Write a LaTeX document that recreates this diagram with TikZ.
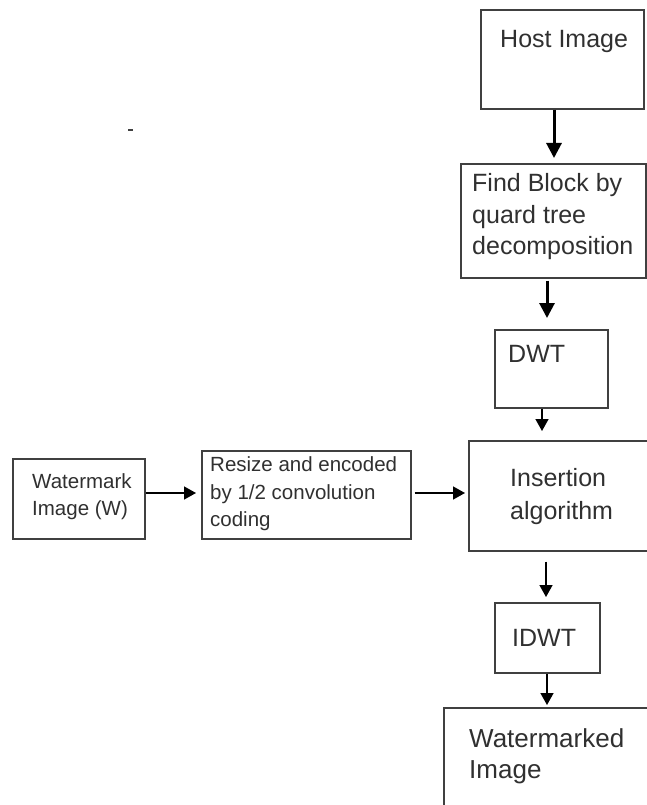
\documentclass[tikz,border=0pt]{standalone}
\usepackage{fontspec}
\setmainfont{Liberation Sans}
\usetikzlibrary{arrows.meta,calc}
\definecolor{boxgray}{HTML}{404040}
\definecolor{txtgray}{HTML}{303030}
\tikzset{
  box/.style={draw=boxgray, line width=1.6pt, anchor=north west, inner sep=0pt},
  txt/.style={anchor=west, inner sep=0pt, text=txtgray, align=left},
  big/.style={font=\fontsize{25}{31.5}\selectfont},
  small/.style={font=\fontsize{20.5}{27.5}\selectfont},
  thickarr/.style={draw=black, line width=3pt, -{Triangle[length=15pt,width=15pt]}},
  thinarr/.style={draw=black, line width=1.5pt, -{Triangle[length=12pt,width=13pt]}}
}
\begin{document}
\begin{tikzpicture}[x=1pt,y=-1pt]
\useasboundingbox (0,0) rectangle (646,805);
% boxes
\node[box, minimum width=163pt, minimum height=99pt] (host) at (480,9) {};
\node[box, minimum width=185pt, minimum height=114pt] (find) at (460,163) {};
\node[box, minimum width=113pt, minimum height=78pt] (dwt) at (494,329) {};
\node[box, minimum width=190pt, minimum height=110pt] (ins) at (468,440) {};
\node[box, minimum width=105pt, minimum height=70pt] (idwt) at (494,602) {};
\node[box, minimum width=215pt, minimum height=115pt] (wmd) at (443,707) {};
\node[box, minimum width=132pt, minimum height=80pt] (wmk) at (12,458) {};
\node[box, minimum width=209pt, minimum height=88pt] (rsz) at (201,450) {};
% texts
\node[txt, big] (thost) at (500,41) {Host Image};
\node[txt, big] (tfind) at (472,217) {Find Block by\\quard tree\\decomposition};
\node[txt, big] (tdwt) at (508,354) {DWT};
\node[txt, big, font=\fontsize{25}{33}\selectfont] (tins) at (510,497) {Insertion\\algorithm};
\node[txt, big] (tidwt) at (512,638) {IDWT};
\node[txt, big, font=\fontsize{26}{31}\selectfont] (twmd) at (469,756) {Watermarked\\Image};
\node[txt, small, font=\fontsize{20.5}{27}\selectfont] (twmk) at (32,497) {Watermark\\Image (W)};
\node[txt, small] (trsz) at (210,494) {Resize and encoded\\by 1/2 convolution\\coding};
% arrows
\draw[thickarr, shorten >=5pt] ($(host.south west)+(74,0)$) -- ($(find.north west)+(94,0)$);
\draw[thickarr, shorten <=2pt, shorten >=11pt] ($(find.south west)+(87,0)$) -- ($(dwt.north west)+(53,0)$);
\draw[thinarr, shorten >=9pt] ($(dwt.south west)+(48,0)$) -- ($(ins.north west)+(74,0)$);
\draw[thinarr, shorten <=10pt, shorten >=5pt] ($(ins.south west)+(78,0)$) -- ($(idwt.north west)+(52,0)$);
\draw[thinarr, shorten >=2pt] ($(idwt.south west)+(53,0)$) -- ($(wmd.north west)+(104,0)$);
\draw[thinarr, shorten >=5pt] ($(wmk.north east)+(0,35)$) -- ($(rsz.north west)+(0,43)$);
\draw[thinarr, shorten <=3pt, shorten >=3pt] ($(rsz.north east)+(0,43)$) -- ($(ins.north west)+(0,53)$);
% stray mark
\draw[line width=1.5pt, boxgray] (128,130) -- (133,130);
\end{tikzpicture}
\end{document}
